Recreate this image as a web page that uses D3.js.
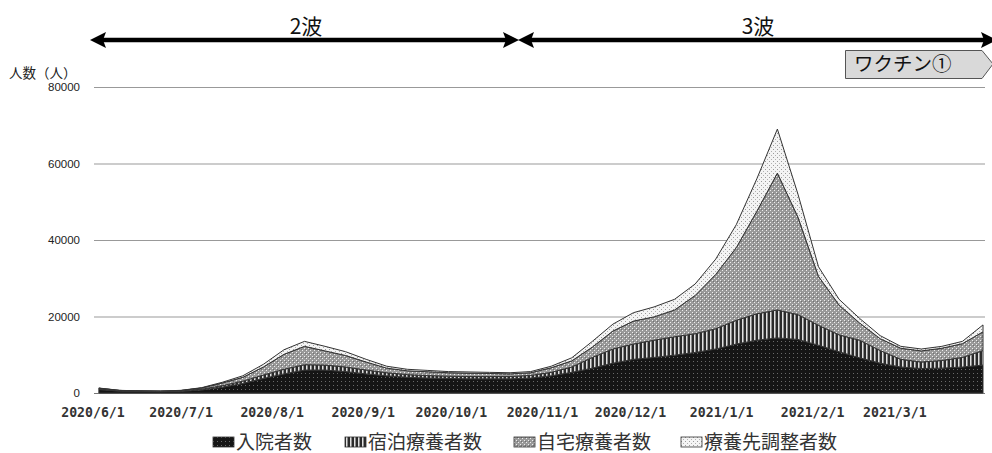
<!DOCTYPE html>
<html><head><meta charset="utf-8">
<script src="https://cdn.jsdelivr.net/npm/d3@7"></script>
<style>body{margin:0;background:#fff}svg{display:block}</style>
</head><body>
<svg id="c" width="992" height="453"></svg>
<script>
const dates = ["2020-06-03","2020-06-10","2020-06-17","2020-06-24","2020-07-01","2020-07-08","2020-07-15","2020-07-22","2020-07-29","2020-08-05","2020-08-12","2020-08-19","2020-08-26","2020-09-02","2020-09-09","2020-09-16","2020-09-23","2020-09-30","2020-10-07","2020-10-14","2020-10-21","2020-10-28","2020-11-04","2020-11-11","2020-11-18","2020-11-25","2020-12-02","2020-12-09","2020-12-16","2020-12-23","2020-12-30","2021-01-06","2021-01-13","2021-01-20","2021-01-27","2021-02-03","2021-02-10","2021-02-17","2021-02-24","2021-03-03","2021-03-10","2021-03-17","2021-03-24","2021-03-31"];
const hospital = [900,500,400,350,450,800,1500,2500,3800,5000,6000,6000,5600,5000,4500,4100,3900,3800,3700,3700,3700,3900,4500,5400,6500,7800,8800,9300,9900,10600,11500,12800,13800,14400,14000,12500,10800,9200,7800,6800,6400,6500,6800,7300];
const hotel = [150,80,70,70,100,200,400,600,900,1200,1400,1300,1200,1000,800,700,650,600,600,600,600,700,900,1400,2800,3700,4000,4500,4800,4900,5300,6200,6900,7300,6500,5200,4400,4600,3300,2000,1700,2000,2500,3800];
const home = [200,90,50,50,100,300,700,1000,2100,3900,4800,3700,3000,2100,1200,1000,1000,900,900,800,700,700,1200,1600,2700,4700,6000,6100,7000,10000,14200,19000,26800,35800,25500,12800,7800,4500,3100,2900,2900,3200,3600,4900];
const adjusting = [50,30,30,30,50,100,200,400,700,1200,1300,1200,1000,700,500,400,350,300,300,300,300,300,400,800,1500,1800,2200,2600,2800,3000,4000,6000,8500,11500,6000,2500,1500,1200,800,500,500,500,600,1800];
const seriesNames = ["入院者数","宿泊療養者数","自宅療養者数","療養先調整者数"];
const yTicks = [0,20000,40000,60000,80000];
const xTickLabels = ["2020/6/1","2020/7/1","2020/8/1","2020/9/1","2020/10/1","2020/11/1","2020/12/1","2021/1/1","2021/2/1","2021/3/1"];
const waveLabels = ["2波","3波"];
const vaccineLabel = "ワクチン①";
const yAxisTitle = "人数（人）";

const svg = d3.select("#c");
const parse = d3.timeParse("%Y-%m-%d");
const tickParse = d3.timeParse("%Y/%m/%d");
const keys = ["hospital","hotel","home","adjusting"];
const rows = dates.map((d,i)=>({date:parse(d),hospital:hospital[i],hotel:hotel[i],home:home[i],adjusting:adjusting[i]}));

const x = d3.scaleTime().domain([parse("2020-06-01"),parse("2021-03-31")]).range([93,983]);
const y = d3.scaleLinear().domain([0,80000]).range([393,87]);

// patterns
const defs = svg.append("defs");
function pat(id, bg, dots){
  const p = defs.append("pattern").attr("id",id).attr("width",4).attr("height",4).attr("patternUnits","userSpaceOnUse");
  p.append("rect").attr("width",4).attr("height",4).attr("fill",bg);
  dots.forEach(d=>p.append("rect").attr("x",d[0]).attr("y",d[1]).attr("width",d[2]).attr("height",d[3]).attr("fill",d[4]));
}
pat("p0","#151515",[[1,1,1,1,"#6a6a6a"]]);
pat("p1","#2a2a2a",[[2,0,1,4,"#e0e0e0"],[3,0,1,4,"#8a8a8a"]]);
pat("p2","#999999",[[0,0,1,1,"#eeeeee"],[2,2,1,1,"#eeeeee"],[1,1,1,1,"#707070"]]);
pat("p3","#f4f4f4",[[1,1,1,1,"#9a9a9a"],[3,3,1,1,"#b0b0b0"]]);

// gridlines
svg.append("g").selectAll("line").data(yTicks).join("line")
  .attr("x1",94).attr("x2",985).attr("y1",d=>y(d)+0.5).attr("y2",d=>y(d)+0.5)
  .attr("stroke",d=>d===0?"#777":"#999").attr("stroke-width",1);

// y labels
svg.append("g").selectAll("text").data(yTicks).join("text")
  .attr("x",80).attr("y",d=>y(d)+4).attr("text-anchor","end")
  .attr("font-family","Liberation Sans, Arial, sans-serif").attr("font-size",11.5).attr("fill","#222")
  .text(d=>d);
svg.append("text").attr("x",9).attr("y",78).attr("font-family","Noto Sans CJK JP").attr("font-size",13.5).attr("fill","#222").text(yAxisTitle);

// stacked areas
const stack = d3.stack().keys(keys)(rows);
const area = d3.area().x(d=>x(d.data.date)).y0(d=>y(d[0])).y1(d=>y(d[1]));
svg.append("g").selectAll("path").data(stack).join("path")
  .attr("d",area).attr("fill",(d,i)=>`url(#p${i})`)
  .attr("stroke","#333").attr("stroke-width",1).attr("stroke-linejoin","round");

// x labels
svg.append("g").selectAll("text").data(xTickLabels).join("text")
  .attr("x",d=>x(tickParse(d))).attr("y",417).attr("text-anchor","middle")
  .attr("font-family","DejaVu Sans Mono").attr("font-weight","bold").attr("font-size",13.2).attr("fill","#333")
  .text(d=>d);

// legend
const legX = [213,345,514,681];
const lg = svg.append("g");
seriesNames.forEach((n,i)=>{
  lg.append("rect").attr("x",legX[i]).attr("y",437).attr("width",21).attr("height",10)
    .attr("fill",`url(#p${i})`).attr("stroke","#333").attr("stroke-width",0.8);
  lg.append("text").attr("x",legX[i]+23).attr("y",449).attr("font-family","Noto Sans CJK JP")
    .attr("font-size",19).attr("fill","#333").text(n);
});

// wave arrows
function arrow(x1,x2){
  const g = svg.append("g");
  g.append("line").attr("x1",x1+10).attr("x2",x2-10).attr("y1",40).attr("y2",40).attr("stroke","#000").attr("stroke-width",4.5);
  g.append("path").attr("d",`M${x1},40 L${x1+16},32 L${x1+13},40 L${x1+16},48 Z`).attr("fill","#000");
  g.append("path").attr("d",`M${x2},40 L${x2-16},32 L${x2-13},40 L${x2-16},48 Z`).attr("fill","#000");
}
arrow(90,519);
arrow(518,997);
svg.append("text").attr("x",306).attr("y",34).attr("text-anchor","middle").attr("font-family","Noto Sans CJK JP").attr("font-size",21).attr("fill","#111").text(waveLabels[0]);
svg.append("text").attr("x",758).attr("y",34).attr("text-anchor","middle").attr("font-family","Noto Sans CJK JP").attr("font-size",21).attr("fill","#111").text(waveLabels[1]);

// vaccine box
svg.append("path").attr("d","M845.5,50.5 L982,50.5 L993,64 L982,78.5 L845.5,78.5 Z")
  .attr("fill","#d9d9d9").attr("stroke","#555").attr("stroke-width",1);
svg.append("text").attr("x",854).attr("y",71).attr("font-family","Noto Sans CJK JP").attr("font-size",19.5).attr("fill","#111").text(vaccineLabel);
</script>
</body></html>
